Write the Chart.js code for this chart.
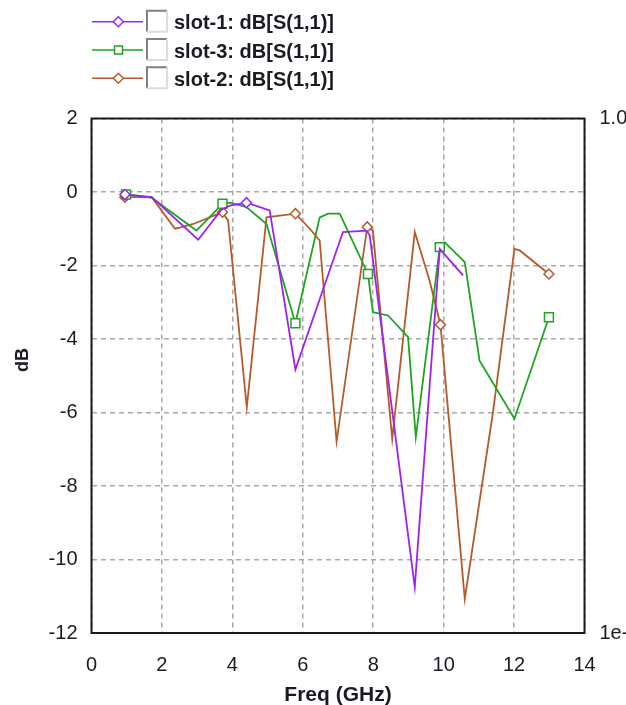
<!DOCTYPE html>
<html>
<head>
<meta charset="utf-8">
<script src="https://cdn.jsdelivr.net/npm/chart.js@4"></script>
<style>
  html, body { margin: 0; padding: 0; background: #fff; }
  canvas { display: block; }
</style>
</head>
<body>
<canvas id="chart" width="626" height="705"></canvas>
<script>
// slot-1
var slot1Freq = [0.95, 1.71, 3.03, 3.69, 3.93, 4.40, 5.06, 5.79, 7.14, 7.81, 7.90, 9.18, 9.89, 10.55];
var slot1Db   = [-0.07, -0.14, -1.30, -0.48, -0.37, -0.29, -0.50, -4.83, -1.09, -1.05, -1.18, -10.75, -1.55, -2.27];
var slot1Marks = [0, 5];

// slot-3
var slot3Freq = [0.98, 1.33, 1.71, 2.98, 3.72, 3.93, 4.40, 4.97, 5.79, 6.48, 6.72, 7.05, 7.85, 7.99, 8.42, 8.99, 9.21, 9.89, 10.03, 10.60, 11.02, 12.01, 12.99];
var slot3Db   = [-0.07, -0.10, -0.16, -1.05, -0.32, -0.29, -0.41, -0.87, -3.57, -0.69, -0.59, -0.59, -2.23, -3.27, -3.36, -3.95, -6.67, -1.50, -1.37, -1.91, -4.59, -6.17, -3.41];
var slot3Marks = [0, 4, 8, 12, 17, 22];

// slot-2
var slot2Freq = [0.95, 1.71, 2.37, 2.51, 2.89, 3.72, 3.88, 4.41, 4.97, 5.79, 6.20, 6.48, 6.96, 7.83, 7.99, 8.54, 9.18, 9.60, 9.91, 10.60, 11.40, 12.01, 12.16, 12.99];
var slot2Db   = [-0.14, -0.14, -1.00, -0.97, -0.87, -0.55, -0.78, -5.86, -0.69, -0.59, -1.00, -1.32, -6.79, -0.95, -1.05, -6.72, -1.09, -2.41, -3.61, -11.07, -6.00, -1.55, -1.59, -2.23];
var slot2Marks = [0, 5, 9, 13, 18, 23];

var seriesNames = ['slot-1: dB[S(1,1)]', 'slot-3: dB[S(1,1)]', 'slot-2: dB[S(1,1)]'];
var seriesColors = ['#a021ef', '#1fa51f', '#b65a2c'];
var seriesMarkers = ['rectRot', 'rect', 'rectRot'];

var xTicks = [0, 2, 4, 6, 8, 10, 12, 14];
var yTicks = [2, 0, -2, -4, -6, -8, -10, -12];
var rightTicks = ['1e-005', '1.0'];

var FONT = "'Liberation Sans', Arial, sans-serif";
var TEXT = '#1a1a22';

function pts(fx, fy) {
    return fx.map(function (f, i) { return { x: f, y: fy[i] }; });
}

function makeSet(i, fx, fy, marks) {
    var r = seriesMarkers[i] === 'rect' ? 6.3 : 5;
    return {
        label: seriesNames[i],
        data: pts(fx, fy),
        borderColor: seriesColors[i],
        borderWidth: 1.8,
        pointStyle: seriesMarkers[i],
        pointRadius: function (c) { return marks.indexOf(c.dataIndex) >= 0 ? r : 0; },
        pointBackgroundColor: '#fff',
        pointBorderColor: seriesColors[i],
        pointBorderWidth: 1.5,
        tension: 0,
        yAxisID: 'y'
    };
}

// legend with checkbox, frame and y title
var decor = {
    id: 'decor',
    afterDatasetsDraw: function (chart) {
        var ctx = chart.ctx, a = chart.chartArea;
        ctx.save();
        ctx.strokeStyle = '#1a1a1a';
        ctx.lineWidth = 2;
        ctx.strokeRect(a.left, a.top, a.right - a.left, a.bottom - a.top);

        ctx.translate(23, 360);
        ctx.rotate(-Math.PI / 2);
        ctx.font = 'bold 18px ' + FONT;
        ctx.fillStyle = TEXT;
        ctx.textAlign = 'center';
        ctx.textBaseline = 'middle';
        ctx.fillText('dB', 0, 0);
        ctx.restore();

        ctx.save();
        for (var i = 0; i < seriesNames.length; i++) {
            var y = 21.7 + i * 28.3;
            ctx.strokeStyle = seriesColors[i];
            ctx.lineWidth = 1.5;
            ctx.beginPath();
            ctx.moveTo(92, y);
            ctx.lineTo(143, y);
            ctx.stroke();
            ctx.fillStyle = '#fff';
            ctx.beginPath();
            if (seriesMarkers[i] === 'rect') {
                ctx.rect(114.5, y - 4, 8, 8);
            } else {
                ctx.moveTo(113.3, y);
                ctx.lineTo(118.3, y - 5);
                ctx.lineTo(123.3, y);
                ctx.lineTo(118.3, y + 5);
                ctx.closePath();
            }
            ctx.fill();
            ctx.stroke();

            // checkbox
            ctx.fillStyle = '#fff';
            ctx.fillRect(147, y - 11, 20, 21);
            ctx.lineWidth = 2;
            ctx.strokeStyle = '#808080';
            ctx.beginPath();
            ctx.moveTo(147, y + 10);
            ctx.lineTo(147, y - 11);
            ctx.lineTo(167, y - 11);
            ctx.stroke();
            ctx.strokeStyle = '#dcdcdc';
            ctx.beginPath();
            ctx.moveTo(167, y - 11);
            ctx.lineTo(167, y + 10);
            ctx.lineTo(147, y + 10);
            ctx.stroke();

            ctx.fillStyle = TEXT;
            ctx.font = 'bold 20px ' + FONT;
            ctx.textAlign = 'left';
            ctx.textBaseline = 'alphabetic';
            ctx.fillText(seriesNames[i], 174, y + 7.6);
        }
        ctx.restore();
    }
};

var gridOpts = { color: '#a9a9a9', lineWidth: 1.5, drawTicks: false };
var borderOpts = { display: false, dash: [5, 4] };
var tickFont = { family: FONT, size: 20 };

new Chart(document.getElementById('chart').getContext('2d'), {
    type: 'line',
    data: {
        datasets: [
            makeSet(0, slot1Freq, slot1Db, slot1Marks),
            makeSet(1, slot3Freq, slot3Db, slot3Marks),
            makeSet(2, slot2Freq, slot2Db, slot2Marks)
        ]
    },
    options: {
        responsive: false,
        animation: false,
        layout: { padding: { top: 118.5, left: 0, right: 0, bottom: 0 } },
        plugins: {
            legend: { display: false },
            tooltip: { enabled: false }
        },
        scales: {
            x: {
                type: 'linear',
                min: xTicks[0],
                max: xTicks[xTicks.length - 1],
                afterBuildTicks: function (s) { s.ticks = xTicks.map(function (v) { return { value: v }; }); },
                ticks: { font: tickFont, color: TEXT, padding: 20, maxRotation: 0 },
                grid: gridOpts,
                border: borderOpts,
                title: {
                    display: true,
                    text: 'Freq (GHz)',
                    font: { family: FONT, size: 21, weight: 'bold' },
                    color: TEXT,
                    padding: { top: 0, bottom: -3 }
                },
                afterFit: function (s) { s.height = 72; }
            },
            y: {
                min: -12,
                max: 2,
                afterBuildTicks: function (s) { s.ticks = yTicks.map(function (v) { return { value: v }; }); },
                ticks: { font: tickFont, color: TEXT, padding: 14 },
                grid: gridOpts,
                border: borderOpts,
                afterFit: function (s) { s.width = 91.5; }
            },
            y2: {
                position: 'right',
                min: 0,
                max: 1,
                afterBuildTicks: function (s) { s.ticks = [{ value: 0 }, { value: 1 }]; },
                ticks: {
                    font: tickFont,
                    color: TEXT,
                    padding: 15,
                    callback: function (v) { return v === 1 ? rightTicks[1] : rightTicks[0]; }
                },
                grid: { display: false, drawTicks: false },
                border: { display: false },
                afterFit: function (s) { s.width = 41.5; }
            }
        }
    },
    plugins: [decor]
});
</script>
</body>
</html>
